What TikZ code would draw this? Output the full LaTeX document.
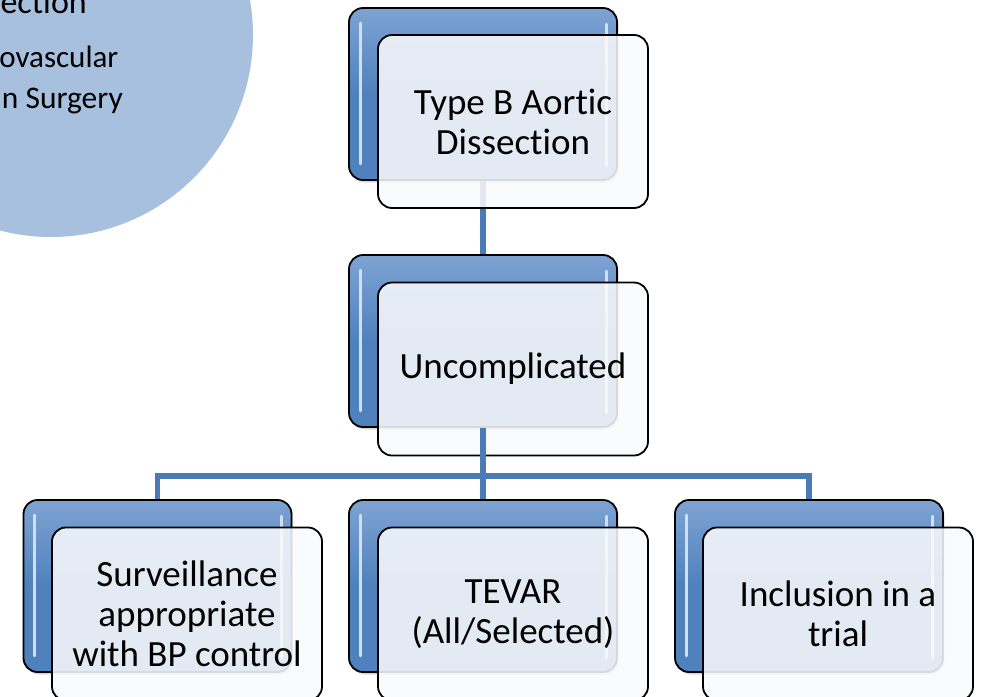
\documentclass[tikz,border=0pt]{standalone}
\usepackage{fontspec}
\setmainfont{Carlito}[Ligatures=NoCommon]
\usetikzlibrary{shadows}
\definecolor{accent}{HTML}{4F81BD}
\definecolor{accentlight}{HTML}{7EA3D3}
\definecolor{circ}{HTML}{A7C0DE}
\definecolor{paper}{HTML}{F9FAFC}
\tikzset{
  conn/.style={draw=accent!95!black, line width=5.5pt},
  bluebox/.style={draw=black, line width=1.8pt, rounded corners=14pt,
    minimum width=268pt, minimum height=172pt, inner sep=0pt,
    top color=accentlight, bottom color=accent, middle color=accent,
    drop shadow={opacity=0.3, shadow xshift=1.5pt, shadow yshift=-2.5pt}},
  whitebox/.style={draw=black, line width=1.8pt, rounded corners=14pt,
    minimum width=270pt, minimum height=173pt, inner sep=0pt,
    fill=paper, fill opacity=0.87, text opacity=1, align=center,
    font=\fontsize{37}{40}\selectfont},
  stripe/.style={draw=white!75!accent, line width=3pt, line cap=round},
  circtext/.style={anchor=base east, inner sep=0pt}
}
\newcommand{\stripes}[1]{%
  \draw[stripe] ([xshift=12pt,yshift=-16pt]#1.north west) -- ([xshift=12pt,yshift=17pt]#1.south west);
  \draw[stripe] ([xshift=-11pt,yshift=-17pt]#1.north east) -- ([xshift=-11pt,yshift=15pt]#1.south east);}
\begin{document}
\begin{tikzpicture}[x=1pt,y=-1pt]
\useasboundingbox (0,0) rectangle (982,696);
\clip (0,0) rectangle (982,696);
% background circle with title fragments
\fill[circ] (51,35) circle (202);
\node[circtext, font=\fontsize{34}{40}\selectfont] (t1) at (87,13) {ection};
\node[circtext, font=\fontsize{31}{36}\selectfont] (t2) at (118.5,67) {ovascular};
\node[circtext, font=\fontsize{31.5}{36}\selectfont] (t3) at (123,108) {n Surgery};
% positions
\path (483,94) coordinate (p1);
\path (483,341) coordinate (p2);
\path (157.5,586) coordinate (p3);
\path (483,586) coordinate (p4);
\path (809,586) coordinate (p5);
\coordinate (bus) at (483,476);
\coordinate (c3) at (157.5,500);
\coordinate (c4) at (483,500);
\coordinate (c5) at (809,500);
\coordinate (top1) at (483,180);
\coordinate (top2) at (483,255);
% connectors first
\draw[conn] (top1) -- (top2);
\node[bluebox] (b1) at (p1) {};
\stripes{b1}
\node[whitebox] (w1) at (513,121.5) {Type B Aortic\\Dissection};
\node[bluebox] (b2) at (p2) {};
\stripes{b2}
\node[whitebox] (w2) at (513,369) {Uncomplicated};
\draw[conn] (b2.south) -- (bus);
\draw[conn] (bus) -| (c3);
\draw[conn] (bus) -| (c5);
\draw[conn] (bus) -- (c4);
\node[bluebox] (b3) at (p3) {};
\stripes{b3}
\node[whitebox] (w3) at (187,614) {Surveillance\\appropriate\\with BP control};
\node[bluebox] (b4) at (p4) {};
\stripes{b4}
\node[whitebox] (w4) at (513,614) {TEVAR\\(All/Selected)};
\node[bluebox] (b5) at (p5) {};
\stripes{b5}
\node[whitebox] (w5) at (838,614) {Inclusion in a\\trial};
\end{tikzpicture}
\end{document}
